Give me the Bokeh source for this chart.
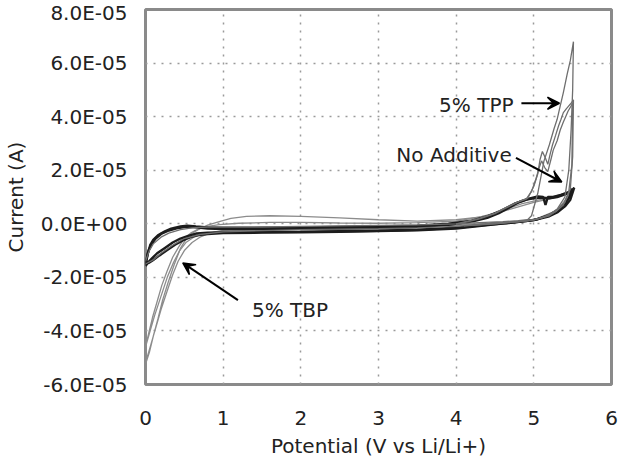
from bokeh.plotting import figure
from bokeh.models import Range1d, FixedTicker, Arrow, VeeHead
from bokeh.core.properties import value
from bokeh.embed import file_html
from bokeh.resources import INLINE

# ---- data (current in units of 1e-5 A) ----
x_ticks = [0, 1, 2, 3, 4, 5, 6]
y_ticks = [-6, -4, -2, 0, 2, 4, 6, 8]
y_tick_labels = ["-6.0E-05", "-4.0E-05", "-2.0E-05", "0.0E+00",
                 "2.0E-05", "4.0E-05", "6.0E-05", "8.0E-05"]

# No additive (black), two cycles
na1_v = [0.0, 0.03, 0.06, 0.1, 0.16, 0.25, 0.33, 0.45, 0.54, 0.65, 0.8, 1.0, 1.5, 2.0, 2.5, 3.0, 3.5,
         3.9, 4.2, 4.4, 4.55, 4.65, 4.75, 4.85, 4.95, 5.05, 5.12, 5.15, 5.18, 5.25, 5.35, 5.45, 5.5,
         5.45, 5.4, 5.3, 5.2, 5.05, 4.9, 4.7, 4.4, 4.0, 3.5, 3.0, 2.5, 2.0, 1.5, 1.0, 0.8, 0.66, 0.55,
         0.45, 0.35, 0.25, 0.15, 0.08, 0.04, 0.0]
na1_i = [-1.58, -1.1, -0.8, -0.6, -0.43, -0.28, -0.18, -0.1, -0.07, -0.1, -0.14, -0.16, -0.15, -0.14, -0.12,
         -0.1, -0.07, 0.0, 0.12, 0.28, 0.45, 0.6, 0.75, 0.85, 0.95, 1.02, 1.0, 0.7, 1.0, 1.0, 1.08, 1.18, 1.3,
         0.95, 0.75, 0.5, 0.33, 0.17, 0.1, 0.04, -0.04, -0.15, -0.22, -0.26, -0.28, -0.3, -0.31, -0.32, -0.33,
         -0.36, -0.45, -0.55, -0.7, -0.9, -1.1, -1.3, -1.42, -1.58]
na2_v = [0.0, 0.04, 0.08, 0.13, 0.2, 0.3, 0.4, 0.5, 0.62, 0.8, 1.0, 1.5, 2.0, 2.5, 3.0, 3.5, 3.9, 4.2,
         4.4, 4.55, 4.68, 4.8, 4.9, 5.0, 5.1, 5.2, 5.3, 5.4, 5.48, 5.52,
         5.47, 5.4, 5.3, 5.2, 5.0, 4.8, 4.5, 4.0, 3.5, 3.0, 2.5, 2.0, 1.5, 1.0, 0.8, 0.68, 0.58, 0.48,
         0.38, 0.28, 0.18, 0.1, 0.05, 0.0]
na2_i = [-1.45, -1.0, -0.75, -0.55, -0.38, -0.25, -0.17, -0.12, -0.12, -0.18, -0.2, -0.2, -0.19,
         -0.18, -0.16, -0.12, -0.04, 0.08, 0.22, 0.4, 0.6, 0.8, 0.9, 0.95, 0.98, 0.95, 1.0, 1.1, 1.2, 1.35,
         0.9, 0.65, 0.42, 0.28, 0.14, 0.07, -0.02, -0.18, -0.24, -0.27, -0.3, -0.32, -0.33, -0.35, -0.38,
         -0.42, -0.5, -0.62, -0.78, -0.98, -1.18, -1.35, -1.45, -1.5]

# 5% TBP (light grey), two cycles
tbp1_v = [0.0, 0.05, 0.1, 0.16, 0.22, 0.29, 0.37, 0.45, 0.52, 0.6, 0.7, 0.8, 0.95, 1.1, 1.3, 1.6, 2.0,
          2.5, 3.0, 3.5, 4.0, 4.3, 4.5, 4.7, 4.85, 5.0, 5.15, 5.3, 5.5,
          5.3, 5.0, 4.7, 4.3, 4.0, 3.5, 3.0, 2.5, 2.0, 1.5, 1.2, 1.0, 0.9, 0.8, 0.7, 0.6, 0.5, 0.42,
          0.35, 0.28, 0.2, 0.13, 0.07, 0.02, 0.0]
tbp1_i = [-5.25, -4.8, -4.2, -3.55, -2.85, -2.2, -1.52, -0.92, -0.58, -0.35, -0.18, -0.05, 0.08, 0.2,
          0.28, 0.3, 0.28, 0.22, 0.15, 0.1, 0.15, 0.25, 0.4, 0.6, 0.75, 0.85, 0.95, 1.05, 1.25,
          0.5, 0.15, 0.05, 0.0, -0.05, -0.1, -0.12, -0.15, -0.18, -0.2, -0.22, -0.25, -0.3, -0.38,
          -0.5, -0.7, -1.0, -1.4, -1.9, -2.5, -3.2, -3.9, -4.5, -5.0, -5.2]
tbp2_v = [0.0, 0.04, 0.09, 0.15, 0.21, 0.28, 0.35, 0.43, 0.5, 0.58, 0.68, 0.8, 0.95, 1.2, 1.6, 2.0,
          2.5, 3.0, 3.5, 4.0, 4.4, 4.7, 5.0, 5.3, 5.5,
          5.3, 5.0, 4.6, 4.0, 3.0, 2.0, 1.2, 0.9, 0.75, 0.62, 0.52, 0.44, 0.36, 0.28, 0.2, 0.12,
          0.06, 0.0]
tbp2_i = [-4.6, -4.1, -3.5, -2.9, -2.3, -1.75, -1.25, -0.85, -0.55, -0.35, -0.2, -0.1, -0.03, 0.02,
          0.05, 0.05, 0.03, 0.02, 0.04, 0.1, 0.3, 0.55, 0.8, 1.0, 1.15,
          0.45, 0.12, 0.03, -0.05, -0.12, -0.18, -0.25, -0.3, -0.38, -0.5, -0.7, -1.0, -1.45, -2.0,
          -2.7, -3.4, -4.0, -4.6]

# 5% TPP (mid grey), three cycles
tpp1_v = [0.0, 0.05, 0.1, 0.2, 0.3, 0.45, 0.6, 0.8, 1.0, 1.5, 2.0, 2.5, 3.0, 3.5, 4.0, 4.3, 4.6,
          4.8, 4.92, 4.97, 5.05, 5.13, 5.2, 5.26, 5.3, 5.34, 5.38, 5.43, 5.47, 5.51,
          5.5, 5.48, 5.45, 5.4, 5.3, 5.2, 5.1, 5.0, 4.8, 4.5, 4.0, 3.5, 3.0, 2.0, 1.0, 0.7, 0.5,
          0.35, 0.2, 0.1, 0.0]
tpp1_i = [-1.4, -1.0, -0.75, -0.5, -0.35, -0.22, -0.15, -0.12, -0.12, -0.12, -0.1, -0.08, -0.06, -0.04,
          0.0, 0.04, 0.08, 0.12, 0.15, 0.3, 1.13, 2.34, 2.95, 3.55, 3.9, 4.4, 4.9, 5.6, 6.1, 6.8,
          5.0, 3.5, 2.0, 1.0, 0.55, 0.35, 0.22, 0.15, 0.08, 0.02, -0.1, -0.15, -0.18, -0.22, -0.3,
          -0.4, -0.55, -0.8, -1.1, -1.35, -1.5]
tpp2_v = [4.0, 4.3, 4.5, 4.6, 4.75, 4.85, 4.92, 5.0, 5.05, 5.08, 5.11, 5.15, 5.18, 5.21, 5.24, 5.28,
          5.32, 5.35, 5.38, 5.42, 5.45, 5.48, 5.51,
          5.5, 5.47, 5.4, 5.3, 5.2, 5.05, 4.9, 4.6, 4.2]
tpp2_i = [0.0, 0.2, 0.4, 0.55, 0.75, 0.88, 0.95, 1.4, 1.86, 2.4, 2.7, 2.45, 2.22, 2.6, 2.94, 3.3,
          3.67, 3.9, 4.15, 4.3, 4.4, 4.5, 4.63,
          2.5, 1.3, 0.8, 0.5, 0.3, 0.18, 0.1, 0.03, -0.05]
tpp3_v = [4.0, 4.3, 4.5, 4.65, 4.8, 4.9, 4.97, 5.03, 5.07, 5.1, 5.14, 5.18, 5.22, 5.25, 5.3, 5.34,
          5.38, 5.41, 5.44, 5.47, 5.5,
          5.49, 5.45, 5.38, 5.28, 5.15, 5.0, 4.8, 4.5, 4.1]
tpp3_i = [-0.02, 0.18, 0.38, 0.6, 0.82, 0.92, 1.2, 1.7, 2.1, 2.35, 2.1, 1.95, 2.4, 2.75, 3.1, 3.5,
          3.8, 4.0, 4.2, 4.35, 4.5,
          2.2, 1.2, 0.7, 0.45, 0.28, 0.15, 0.08, 0.0, -0.08]

# annotations
labels_txt = ["5% TPP", "No Additive", "5% TBP"]
labels_v = [3.78, 3.23, 1.37]
labels_i = [4.45, 2.57, -3.2]
arrows_x0 = [4.84, 4.77, 1.19]
arrows_y0 = [4.5, 2.46, -2.85]
arrows_x1 = [5.33, 5.36, 0.48]
arrows_y1 = [4.5, 1.56, -1.46]

FONT = "DejaVu Sans"
FS = "20px"

p = figure(width=618, height=460, output_backend="svg", toolbar_location=None,
           x_range=Range1d(0, 6), y_range=Range1d(-6, 8),
           min_border_left=139, min_border_right=7, min_border_top=9, min_border_bottom=72,
           background_fill_color="white", border_fill_color="white")

p.outline_line_color = "#8a8a8a"
p.outline_line_width = 3

for ax in (p.xaxis[0], p.yaxis[0]):
    ax.axis_line_color = None
    ax.major_tick_line_color = None
    ax.minor_tick_line_color = None
    ax.major_label_text_font = FONT
    ax.major_label_text_font_size = FS
    ax.major_label_text_color = "#222222"
    ax.axis_label_text_font = FONT
    ax.axis_label_text_font_size = FS
    ax.axis_label_text_font_style = "normal"
    ax.axis_label_text_color = "#222222"

p.xaxis.ticker = FixedTicker(ticks=x_ticks)
p.yaxis.ticker = FixedTicker(ticks=y_ticks)
p.yaxis.major_label_overrides = {t: s for t, s in zip(y_ticks, y_tick_labels)}
p.xaxis.axis_label = "Potential (V vs Li/Li+)"
p.yaxis.axis_label = "Current (A)"
p.xaxis.major_label_standoff = 20
p.yaxis.major_label_standoff = 12
p.xaxis.axis_label_standoff = 6
p.yaxis.axis_label_standoff = 10

for g in (p.xgrid[0], p.ygrid[0]):
    g.grid_line_color = "#9a9a9a"
    g.grid_line_dash = "2 6"
    g.grid_line_width = 1.5
p.xgrid.ticker = FixedTicker(ticks=x_ticks)
p.ygrid.ticker = FixedTicker(ticks=y_ticks)

# curves
for v, i in ((tbp1_v, tbp1_i), (tbp2_v, tbp2_i)):
    p.line(v, i, line_color="#8c8c8c", line_width=1.3)
for v, i in ((na1_v, na1_i), (na2_v, na2_i)):
    p.line(v, i, line_color="#1c1c1c", line_width=2.4)
for v, i in ((tpp1_v, tpp1_i), (tpp2_v, tpp2_i), (tpp3_v, tpp3_i)):
    p.line(v, i, line_color="#6e6e6e", line_width=1.3)

p.text(x=labels_v, y=labels_i, text=labels_txt, text_font=value(FONT),
       text_font_size=FS, text_color="#222222", text_baseline="middle", text_align="left")

for x0, y0, x1, y1 in zip(arrows_x0, arrows_y0, arrows_x1, arrows_y1):
    p.add_layout(Arrow(end=VeeHead(size=12, fill_color="black", line_color="black", line_width=1.5),
                       x_start=x0, y_start=y0, x_end=x1, y_end=y1,
                       line_color="black", line_width=2))

open("out.html", "w").write(file_html(p, INLINE))
